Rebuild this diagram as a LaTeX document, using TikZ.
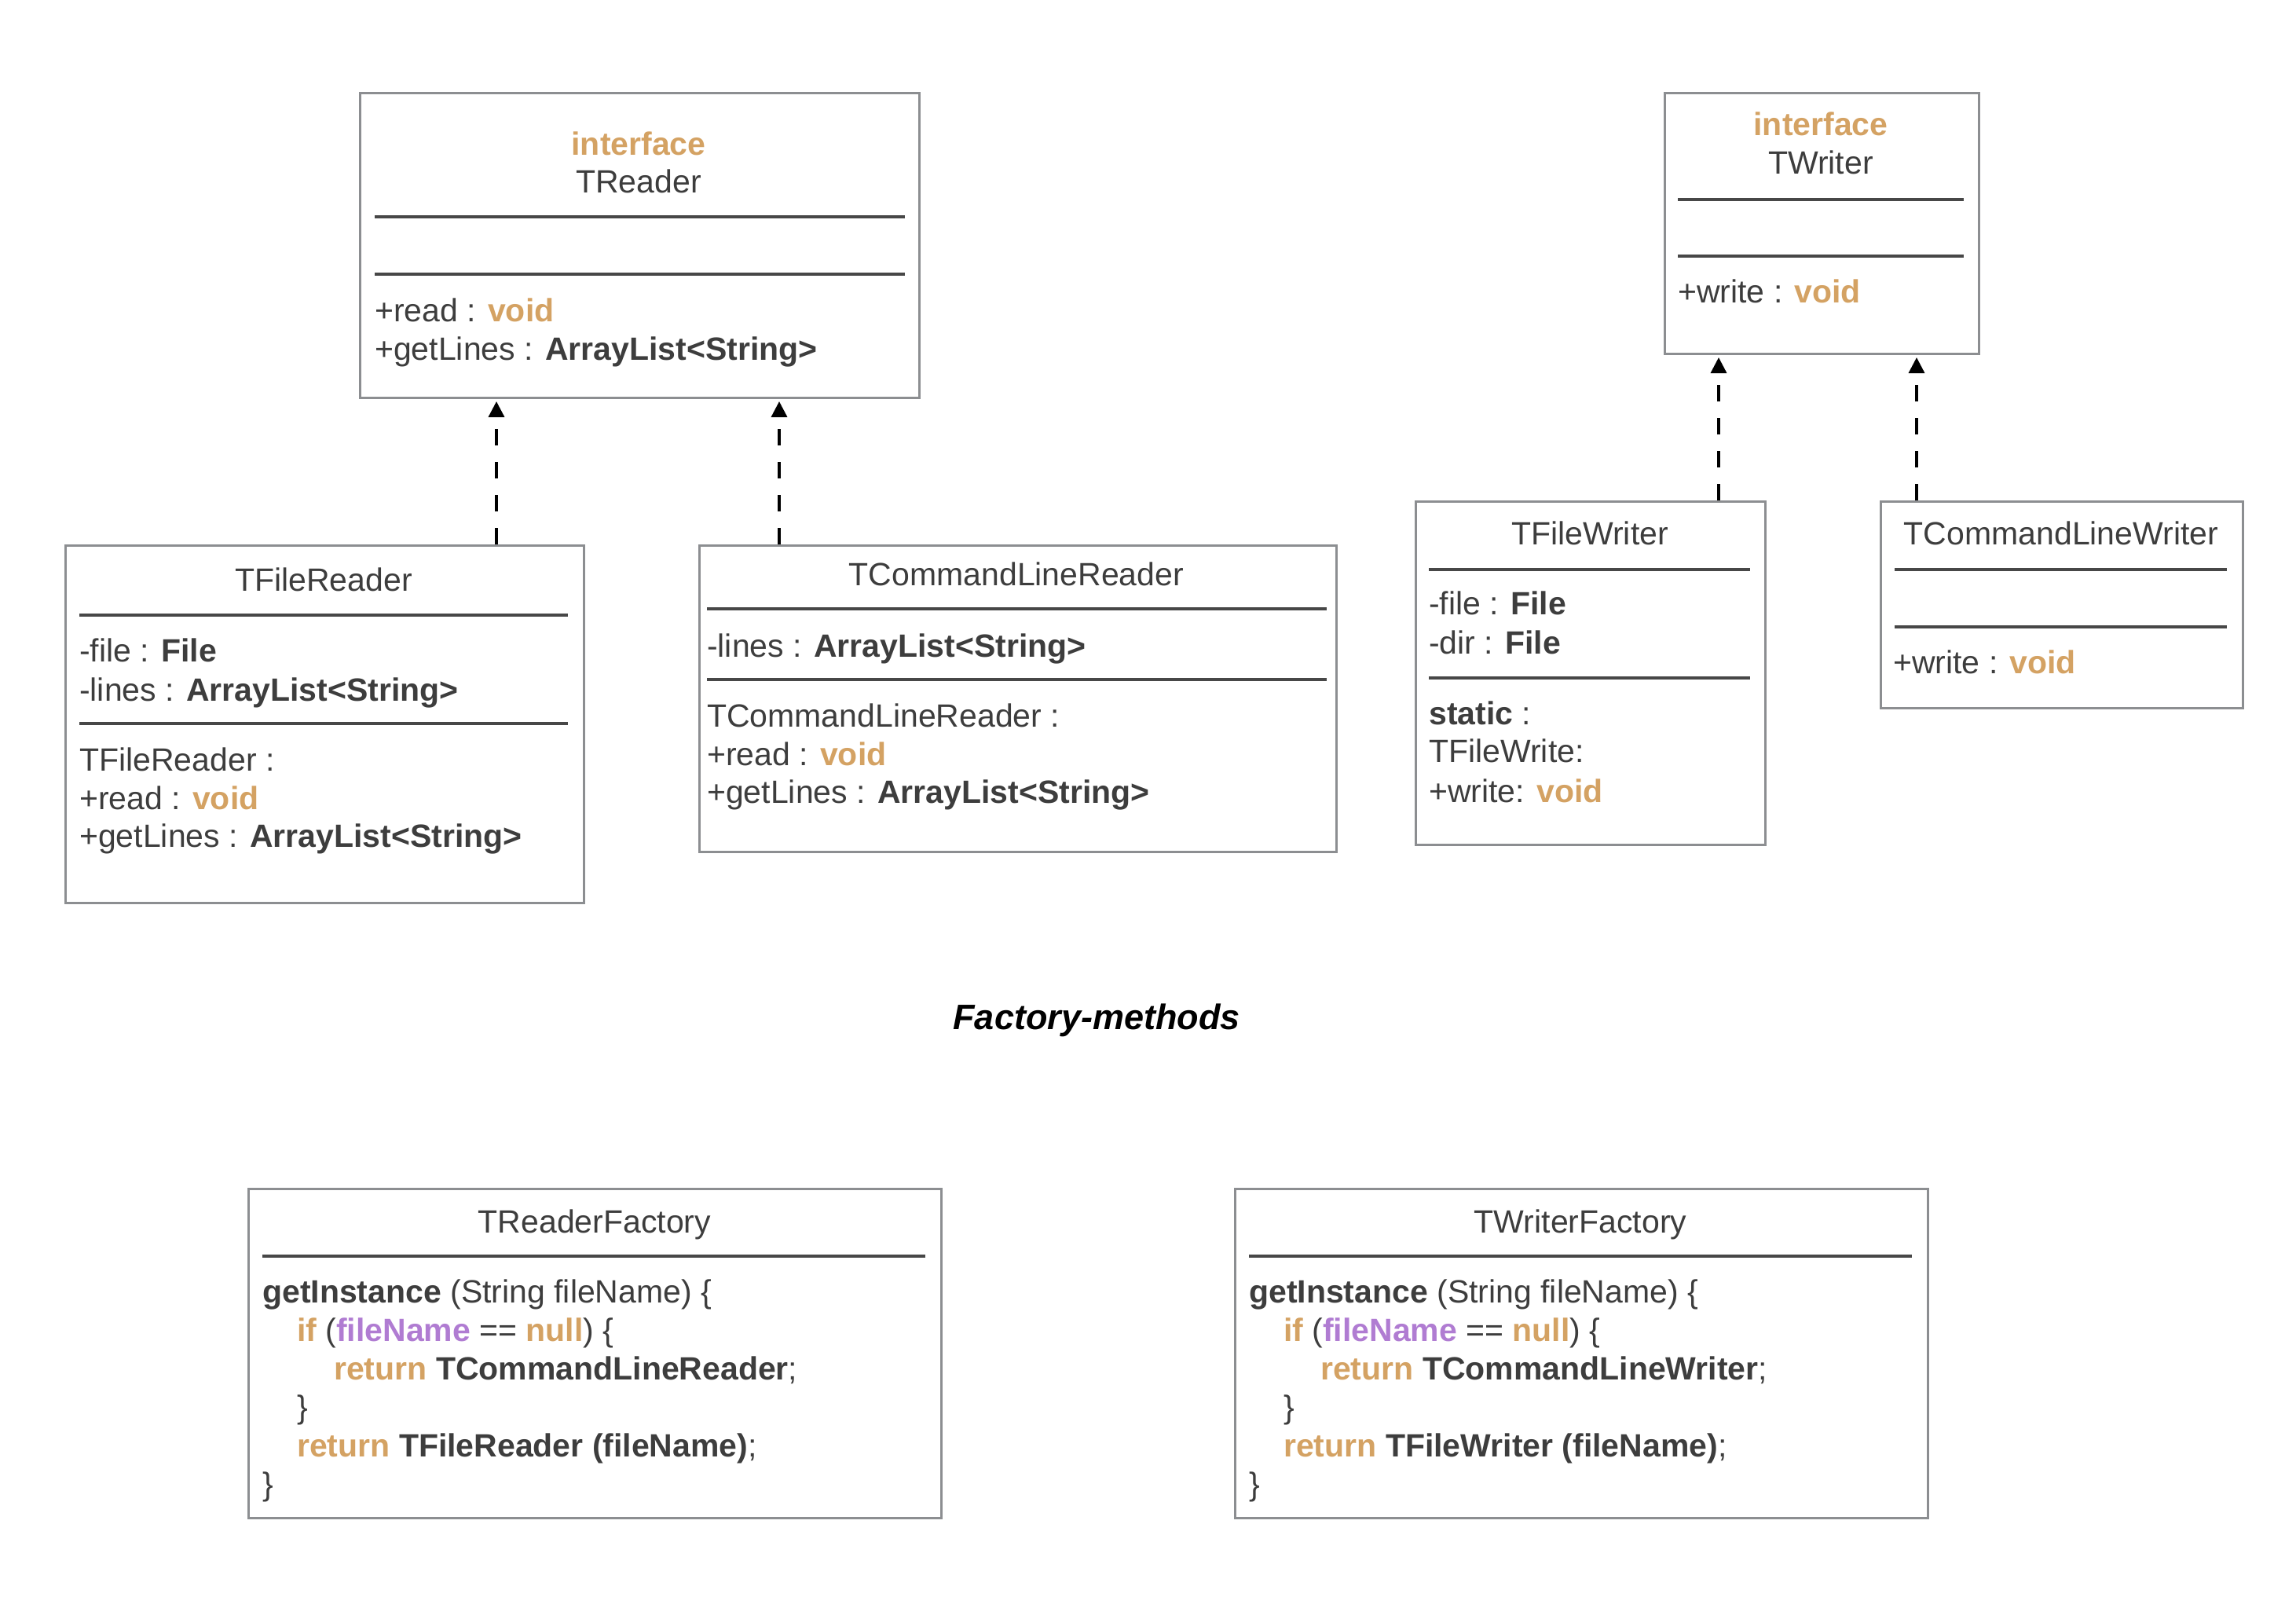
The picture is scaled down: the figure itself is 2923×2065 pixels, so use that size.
\documentclass[tikz,border=0pt]{standalone}
\usepackage{fontspec}
\setmainfont{Liberation Sans}
\usetikzlibrary{arrows.meta}
\definecolor{txt}{HTML}{3D3D3D}
\definecolor{kw}{HTML}{D4A263}
\definecolor{pur}{HTML}{B07CD2}
\definecolor{frame}{HTML}{8C8E91}
\definecolor{sep}{HTML}{474747}
\newcommand\kwd[1]{\textbf{\color{kw}#1}}
\newcommand\bdt[1]{\textbf{#1}}
\newcommand\pur[1]{\textbf{\color{pur}#1}}
\tikzset{
  umlbox/.style={draw=frame, line width=3pt, inner sep=0pt, anchor=north west},
  sepline/.style={draw=sep, line width=3.5pt},
  tx/.style={anchor=base west, inner sep=0pt, text=txt, font=\fontsize{41}{49}\selectfont},
  ttl/.style={anchor=base, inner sep=0pt, text=txt, font=\fontsize{41}{49}\selectfont},
  realize/.style={draw=black, line width=3.3pt, dash pattern=on 21pt off 21pt, shorten >=3pt,
    -{Triangle[length=20pt,width=20pt]}},
}
\begin{document}
\begin{tikzpicture}[x=1pt,y=-1pt]
\useasboundingbox (0,0) rectangle (2923,2065);

% ---------- TReader ----------
\node[umlbox, minimum width=712pt, minimum height=388pt] (treader) at (457,117) {};
\node[ttl] (treaderS) at (813,197) {\kwd{interface}};
\node[ttl] (treaderT) at (813,245) {TReader};
\draw[sepline] (477,276) -- (1152,276);
\draw[sepline] (477,349) -- (1152,349);
\node[tx] (treaderM1) at (477,409) {+read : \kwd{void}};
\node[tx] (treaderM2) at (477,458) {+getLines : \bdt{ArrayList<String>}};

% ---------- TFileReader ----------
\node[umlbox, minimum width=660pt, minimum height=455pt] (tfr) at (82,693) {};
\node[ttl] (tfrT) at (412,752) {TFileReader};
\draw[sepline] (101,783) -- (723,783);
\node[tx] (tfrA1) at (101,842) {-file : \bdt{File}};
\node[tx] (tfrA2) at (101,892) {-lines : \bdt{ArrayList<String>}};
\draw[sepline] (101,921) -- (723,921);
\node[tx] (tfrM1) at (101,981) {TFileReader :};
\node[tx] (tfrM2) at (101,1030) {+read : \kwd{void}};
\node[tx] (tfrM3) at (101,1078) {+getLines : \bdt{ArrayList<String>}};

% ---------- TCommandLineReader ----------
\node[umlbox, minimum width=811pt, minimum height=390pt] (tclr) at (889,693) {};
\node[ttl] (tclrT) at (1294,745) {TCommandLineReader};
\draw[sepline] (900,775) -- (1689,775);
\node[tx] (tclrA1) at (900,836) {-lines : \bdt{ArrayList<String>}};
\draw[sepline] (900,865) -- (1689,865);
\node[tx] (tclrM1) at (900,925) {TCommandLineReader :};
\node[tx] (tclrM2) at (900,974) {+read : \kwd{void}};
\node[tx] (tclrM3) at (900,1022) {+getLines : \bdt{ArrayList<String>}};

% ---------- TWriter ----------
\node[umlbox, minimum width=400pt, minimum height=332pt] (twriter) at (2118,117) {};
\node[ttl] (twriterS) at (2318,172) {\kwd{interface}};
\node[ttl] (twriterT) at (2318,221) {TWriter};
\draw[sepline] (2136,254) -- (2500,254);
\draw[sepline] (2136,326) -- (2500,326);
\node[tx] (twriterM1) at (2136,385) {+write : \kwd{void}};

% ---------- TFileWriter ----------
\node[umlbox, minimum width=445pt, minimum height=437pt] (tfw) at (1801,637) {};
\node[ttl] (tfwT) at (2024,693) {TFileWriter};
\draw[sepline] (1819,725) -- (2228,725);
\node[tx] (tfwA1) at (1819,782) {-file : \bdt{File}};
\node[tx] (tfwA2) at (1819,832) {-dir : \bdt{File}};
\draw[sepline] (1819,863) -- (2228,863);
\node[tx] (tfwM1) at (1819,922) {\bdt{static} :};
\node[tx] (tfwM2) at (1819,970) {TFileWrite:};
\node[tx] (tfwM3) at (1819,1021) {+write: \kwd{void}};

% ---------- TCommandLineWriter ----------
\node[umlbox, minimum width=461pt, minimum height=263pt] (tclw) at (2393,637) {};
\node[ttl] (tclwT) at (2624,693) {TCommandLineWriter};
\draw[sepline] (2412,725) -- (2835,725);
\draw[sepline] (2412,798) -- (2835,798);
\node[tx] (tclwM1) at (2410,857) {+write : \kwd{void}};

% ---------- realization arrows ----------
\coordinate (xa) at (632,0);
\coordinate (xb) at (992,0);
\coordinate (xc) at (2188,0);
\coordinate (xd) at (2440,0);
\draw[realize] (tfr.north -| xa) -- (treader.south -| xa);
\draw[realize] (tclr.north -| xb) -- (treader.south -| xb);
\draw[realize] (tfw.north -| xc) -- (twriter.south -| xc);
\draw[realize] (tclw.north -| xd) -- (twriter.south -| xd);

% ---------- caption ----------
\node[anchor=base, inner sep=0pt, font=\fontsize{45}{54}\selectfont\bfseries\itshape] (caption) at (1396,1310) {Factory-methods};

% ---------- TReaderFactory ----------
\node[umlbox, minimum width=882pt, minimum height=419pt] (trf) at (315,1512) {};
\node[ttl] (trfT) at (757,1569) {TReaderFactory};
\draw[sepline] (334,1599) -- (1178,1599);
\node[tx] (trfC1) at (334,1658) {\bdt{getInstance} (String fileName) \{};
\node[tx] (trfC2) at (378,1707) {\kwd{if} (\pur{fileName} == \kwd{null}) \{};
\node[tx] (trfC3) at (425,1756) {\kwd{return} \bdt{TCommandLineReader};};
\node[tx] (trfC4) at (378,1805) {\}};
\node[tx] (trfC5) at (378,1854) {\kwd{return} \bdt{TFileReader (fileName)};};
\node[tx] (trfC6) at (334,1903) {\}};

% ---------- TWriterFactory ----------
\node[umlbox, minimum width=882pt, minimum height=419pt] (twf) at (1571,1512) {};
\node[ttl] (twfT) at (2012,1569) {TWriterFactory};
\draw[sepline] (1590,1599) -- (2434,1599);
\node[tx] (twfC1) at (1590,1658) {\bdt{getInstance} (String fileName) \{};
\node[tx] (twfC2) at (1634,1707) {\kwd{if} (\pur{fileName} == \kwd{null}) \{};
\node[tx] (twfC3) at (1681,1756) {\kwd{return} \bdt{TCommandLineWriter};};
\node[tx] (twfC4) at (1634,1805) {\}};
\node[tx] (twfC5) at (1634,1854) {\kwd{return} \bdt{TFileWriter (fileName)};};
\node[tx] (twfC6) at (1590,1903) {\}};
\end{tikzpicture}
\end{document}
